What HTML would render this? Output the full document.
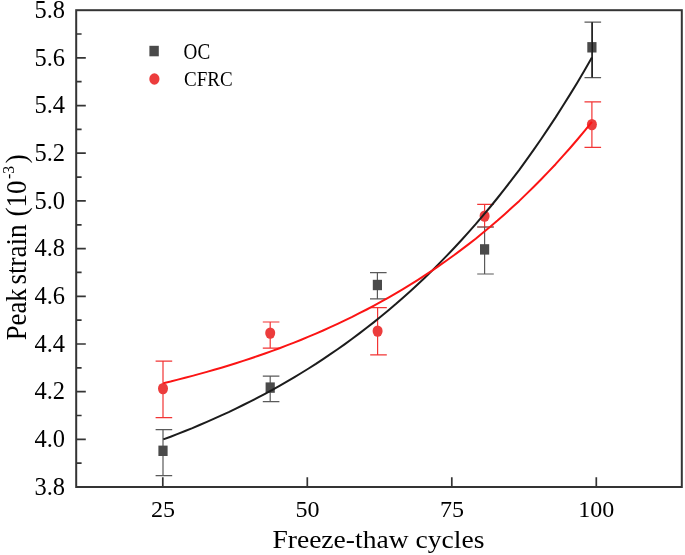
<!DOCTYPE html>
<html><head><meta charset="utf-8"><title>Peak strain vs freeze-thaw cycles</title>
<style>html,body{margin:0;padding:0;background:#fff}svg{display:block}</style></head>
<body>
<svg width="685" height="555" viewBox="0 0 685 555" font-family="'Liberation Serif', serif" fill="#000">
<rect width="685" height="555" fill="#fff"/>
<rect x="76.2" y="10.2" width="605.6" height="476.8" fill="none" stroke="#343434" stroke-width="2"/>
<path d="M76.2,439.3h9.6 M76.2,391.6h9.6 M76.2,344.0h9.6 M76.2,296.3h9.6 M76.2,248.6h9.6 M76.2,200.9h9.6 M76.2,153.2h9.6 M76.2,105.6h9.6 M76.2,57.9h9.6 M76.2,463.2h5.4 M76.2,415.5h5.4 M76.2,367.8h5.4 M76.2,320.1h5.4 M76.2,272.4h5.4 M76.2,224.8h5.4 M76.2,177.1h5.4 M76.2,129.4h5.4 M76.2,81.7h5.4 M76.2,34.0h5.4 M162.8,487.0v-9.8 M307.3,487.0v-9.8 M451.8,487.0v-9.8 M596.3,487.0v-9.8" stroke="#343434" stroke-width="1.7" fill="none"/>
<text x="34.4" y="494.7" font-size="24.3" textLength="30.6" lengthAdjust="spacingAndGlyphs">3.8</text>
<text x="34.4" y="447.0" font-size="24.3" textLength="30.6" lengthAdjust="spacingAndGlyphs">4.0</text>
<text x="34.4" y="399.3" font-size="24.3" textLength="30.6" lengthAdjust="spacingAndGlyphs">4.2</text>
<text x="34.4" y="351.7" font-size="24.3" textLength="30.6" lengthAdjust="spacingAndGlyphs">4.4</text>
<text x="34.4" y="304.0" font-size="24.3" textLength="30.6" lengthAdjust="spacingAndGlyphs">4.6</text>
<text x="34.4" y="256.3" font-size="24.3" textLength="30.6" lengthAdjust="spacingAndGlyphs">4.8</text>
<text x="34.4" y="208.6" font-size="24.3" textLength="30.6" lengthAdjust="spacingAndGlyphs">5.0</text>
<text x="34.4" y="160.9" font-size="24.3" textLength="30.6" lengthAdjust="spacingAndGlyphs">5.2</text>
<text x="34.4" y="113.3" font-size="24.3" textLength="30.6" lengthAdjust="spacingAndGlyphs">5.4</text>
<text x="34.4" y="65.6" font-size="24.3" textLength="30.6" lengthAdjust="spacingAndGlyphs">5.6</text>
<text x="34.4" y="17.9" font-size="24.3" textLength="30.6" lengthAdjust="spacingAndGlyphs">5.8</text>
<text x="163.1" y="516.6" font-size="24" text-anchor="middle">25</text>
<text x="307.6" y="516.6" font-size="24" text-anchor="middle">50</text>
<text x="452.1" y="516.6" font-size="24" text-anchor="middle">75</text>
<text x="596.3" y="516.6" font-size="24" text-anchor="middle">100</text>
<text x="272.4" y="547.8" font-size="26" textLength="212" lengthAdjust="spacingAndGlyphs">Freeze-thaw cycles</text>
<g transform="translate(26.4,340.2) rotate(-90) scale(1,1.115)" font-size="26" lengthAdjust="spacingAndGlyphs"><text x="0" y="0" textLength="51.8" lengthAdjust="spacingAndGlyphs">Peak</text><text x="55.6" y="0" textLength="60.2" lengthAdjust="spacingAndGlyphs">strain</text><text x="123.6" y="0" textLength="36" lengthAdjust="spacingAndGlyphs">(10</text><text x="161.1" y="-10.8" font-size="15.8">-3</text><text x="177" y="0" font-size="26.5">)</text></g>
<path d="M163.0,361.1V417.6M155.6,361.1h16.6M155.6,417.6h16.6 M270.2,322.0V348.2M262.8,322.0h16.6M262.8,348.2h16.6 M377.6,307.7V354.9M370.2,307.7h16.6M370.2,354.9h16.6 M484.6,204.4V227.0M477.2,204.4h16.6M477.2,227.0h16.6 M591.9,101.9V147.3M584.5,101.9h16.6M584.5,147.3h16.6" stroke="#f23434" stroke-width="1.2" fill="none"/>
<path d="M163.0,429.7V475.7M155.6,429.7h16.6M155.6,475.7h16.6 M270.2,376.1V401.6M262.8,376.1h16.6M262.8,401.6h16.6 M377.4,272.7V298.9M370.0,272.7h16.6M370.0,298.9h16.6 M484.6,227.0V274.0M477.2,227.0h16.6M477.2,274.0h16.6 M591.9,22.2V77.6M584.5,22.2h16.6M584.5,77.6h16.6" stroke="#5a5a5a" stroke-width="1.2" fill="none"/>
<rect x="158.4" y="445.6" width="9.2" height="10.4" fill="#4a4a4a"/>
<rect x="265.6" y="382.4" width="9.2" height="10.4" fill="#4a4a4a"/>
<rect x="372.8" y="279.8" width="9.2" height="10.4" fill="#4a4a4a"/>
<rect x="480.0" y="244.2" width="9.2" height="10.4" fill="#4a4a4a"/>
<rect x="587.3" y="42.1" width="9.2" height="10.4" fill="#4a4a4a"/>
<ellipse cx="163.0" cy="388.6" rx="5" ry="5.7" fill="#ec3c3c"/>
<ellipse cx="270.2" cy="333.1" rx="5" ry="5.7" fill="#ec3c3c"/>
<ellipse cx="377.6" cy="331.1" rx="5" ry="5.7" fill="#ec3c3c"/>
<ellipse cx="484.6" cy="216.1" rx="5" ry="5.7" fill="#ec3c3c"/>
<ellipse cx="591.9" cy="124.6" rx="5" ry="5.7" fill="#ec3c3c"/>
<path d="M163.3,439.4 L170.6,436.7 L177.8,433.9 L185.1,431.0 L192.4,428.1 L199.6,425.0 L206.9,421.9 L214.2,418.7 L221.4,415.4 L228.7,412.1 L235.9,408.6 L243.2,405.0 L250.5,401.4 L257.7,397.7 L265.0,393.8 L272.3,389.9 L279.5,385.8 L286.8,381.7 L294.1,377.4 L301.3,373.0 L308.6,368.5 L315.9,363.9 L323.1,359.1 L330.4,354.2 L337.6,349.2 L344.9,344.1 L352.2,338.8 L359.4,333.4 L366.7,327.8 L374.0,322.1 L381.2,316.3 L388.5,310.3 L395.8,304.1 L403.0,297.7 L410.3,291.2 L417.6,284.5 L424.8,277.7 L432.1,270.6 L439.3,263.4 L446.6,255.9 L453.9,248.3 L461.1,240.5 L468.4,232.4 L475.7,224.2 L482.9,215.7 L490.2,207.0 L497.5,198.0 L504.7,188.9 L512.0,179.4 L519.3,169.8 L526.5,159.8 L533.8,149.6 L541.0,139.2 L548.3,128.4 L555.6,117.4 L562.8,106.0 L570.1,94.4 L577.4,82.4 L584.6,70.2 L591.9,57.6" stroke="#1c1c1c" stroke-width="2" fill="none" stroke-linejoin="round"/>
<path d="M592.2,22.2V77.6" stroke="#161616" stroke-width="1.4" fill="none"/>
<path d="M163.3,383.2 L170.6,381.5 L177.8,379.6 L185.1,377.8 L192.4,375.9 L199.6,373.9 L206.9,371.9 L214.2,369.8 L221.4,367.7 L228.7,365.5 L235.9,363.2 L243.2,360.9 L250.5,358.5 L257.7,356.0 L265.0,353.5 L272.3,350.9 L279.5,348.2 L286.8,345.4 L294.1,342.6 L301.3,339.7 L308.6,336.7 L315.9,333.6 L323.1,330.5 L330.4,327.2 L337.6,323.9 L344.9,320.4 L352.2,316.9 L359.4,313.2 L366.7,309.5 L374.0,305.6 L381.2,301.7 L388.5,297.6 L395.8,293.4 L403.0,289.1 L410.3,284.7 L417.6,280.1 L424.8,275.4 L432.1,270.6 L439.3,265.6 L446.6,260.5 L453.9,255.3 L461.1,249.9 L468.4,244.4 L475.7,238.7 L482.9,232.8 L490.2,226.8 L497.5,220.6 L504.7,214.2 L512.0,207.6 L519.3,200.9 L526.5,193.9 L533.8,186.8 L541.0,179.5 L548.3,171.9 L555.6,164.2 L562.8,156.2 L570.1,148.0 L577.4,139.5 L584.6,130.9 L591.9,121.9" stroke="#fb1414" stroke-width="2" fill="none" stroke-linejoin="round"/>
<rect x="149.4" y="45.8" width="9.4" height="10.5" fill="#4a4a4a"/>
<ellipse cx="154.4" cy="79" rx="5.1" ry="5.7" fill="#ec3c3c"/>
<text x="183.6" y="59" font-size="23" textLength="26.6" lengthAdjust="spacingAndGlyphs">OC</text>
<text x="184" y="86.4" font-size="21" textLength="48.6" lengthAdjust="spacingAndGlyphs">CFRC</text>
</svg>
</body></html>
